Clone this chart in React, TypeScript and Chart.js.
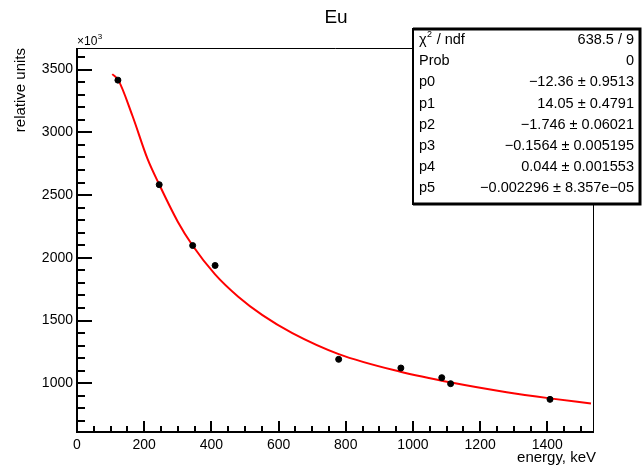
import React, { useEffect, useRef } from "react";
import { Chart, registerables } from "chart.js";

Chart.register(...registerables);

// ---------- data ----------
const chartTitle = "Eu";
const xAxisTitle = "energy, keV";
const yAxisTitle = "relative units";
const yMultiplier = "×10";
const yMultiplierExp = "3";

const energies = [121.8, 244.7, 344.3, 411.1, 778.9, 964.1, 1085.8, 1112.1, 1408.0];
const amplitudes = [3416, 2583, 2098, 1939, 1191, 1122, 1045, 997, 872];

const fitEnergies = [105, 123, 165, 210, 245, 300, 344, 411, 480, 552, 641, 779, 960, 1118, 1279, 1408, 1530];
const fitValues = [3464, 3416, 3132, 2788, 2583, 2288, 2098, 1868, 1690, 1543, 1400, 1233, 1094, 1004, 929, 880, 839];

const xTickValues = [0, 200, 400, 600, 800, 1000, 1200, 1400];
const yTickValues = [1000, 1500, 2000, 2500, 3000, 3500];
const xMin = 0;
const xMax = 1536;
const yMin = 612;
const yMax = 3672;

const statLabels = ["χ² / ndf", "Prob", "p0", "p1", "p2", "p3", "p4", "p5"];
const statValues = [
  "638.5 / 9",
  "0",
  "−12.36 ± 0.9513",
  "14.05 ± 0.4791",
  "−1.746 ± 0.06021",
  "−0.1564 ± 0.005195",
  "0.044 ± 0.001553",
  "−0.002296 ± 8.357e−05",
];

// ---------- styling ----------
const FONT = "'Liberation Sans', Arial, Helvetica, sans-serif";
const W = 642;
const H = 469;
const AREA = { left: 77, right: 593, top: 48, bottom: 432 };
const xMinorStep = 50;
const yMinorStep = 100;

const rootPlugin = {
  id: "rootDecor",
  afterDraw(chart: any) {
    const { ctx, chartArea: a, scales } = chart;
    const xs = scales.x;
    const ys = scales.y;
    ctx.save();

    // thin frame top/right
    ctx.strokeStyle = "#000";
    ctx.lineWidth = 1;
    ctx.beginPath();
    ctx.moveTo(a.left, a.top + 0.5);
    ctx.lineTo(a.right + 0.5, a.top + 0.5);
    ctx.lineTo(a.right + 0.5, a.bottom);
    ctx.stroke();

    // thick axes
    ctx.lineWidth = 2;
    ctx.beginPath();
    ctx.moveTo(a.left, a.top);
    ctx.lineTo(a.left, a.bottom);
    ctx.lineTo(a.right + 1, a.bottom);
    ctx.stroke();

    // y ticks (inside)
    for (let v = Math.ceil(yMin / yMinorStep) * yMinorStep; v <= yMax; v += yMinorStep) {
      const py = Math.round(ys.getPixelForValue(v));
      const major = yTickValues.includes(v);
      ctx.beginPath();
      ctx.moveTo(a.left, py);
      ctx.lineTo(a.left + (major ? 15 : 8), py);
      ctx.stroke();
    }
    // x ticks (inside)
    for (let v = Math.ceil(xMin / xMinorStep) * xMinorStep; v <= xMax; v += xMinorStep) {
      const px = Math.round(xs.getPixelForValue(v));
      if (px <= a.left + 1) continue;
      const major = xTickValues.includes(v);
      ctx.beginPath();
      ctx.moveTo(px, a.bottom);
      ctx.lineTo(px, a.bottom - (major ? 11 : 6));
      ctx.stroke();
    }

    ctx.fillStyle = "#000";
    // title
    ctx.font = `19px ${FONT}`;
    ctx.textAlign = "center";
    ctx.textBaseline = "middle";
    ctx.fillText(chartTitle, 336, 18);

    // x axis title
    ctx.font = `15px ${FONT}`;
    ctx.textAlign = "right";
    ctx.textBaseline = "middle";
    ctx.fillText(xAxisTitle, a.right + 3, 458);

    // y axis title
    ctx.save();
    ctx.translate(21, a.top);
    ctx.rotate(-Math.PI / 2);
    ctx.textAlign = "right";
    ctx.textBaseline = "middle";
    ctx.fillText(yAxisTitle, 0, 0);
    ctx.restore();

    // multiplier
    ctx.font = `12px ${FONT}`;
    ctx.textAlign = "left";
    ctx.textBaseline = "alphabetic";
    ctx.fillText(yMultiplier, a.left, 45);
    const mw = ctx.measureText(yMultiplier).width;
    ctx.font = `8px ${FONT}`;
    ctx.fillText(yMultiplierExp, a.left + mw + 0.5, 39);

    // stats box
    const bx = 413, by = 29, bw = 227, bh = 175;
    ctx.fillStyle = "#fff";
    ctx.fillRect(bx, by, bw, bh);
    ctx.strokeStyle = "#000";
    ctx.lineWidth = 2;
    ctx.strokeRect(bx, by, bw, bh);
    ctx.lineWidth = 3;
    ctx.beginPath();
    ctx.moveTo(bx, by);
    ctx.lineTo(bx + bw, by);
    ctx.lineTo(bx + bw, by + bh);
    ctx.lineTo(bx, by + bh);
    ctx.stroke();

    ctx.fillStyle = "#000";
    ctx.textBaseline = "middle";
    const rowH = 21.2;
    const sf = `14.5px ${FONT}`;
    for (let i = 0; i < statLabels.length; i++) {
      const ry = 40 + i * rowH;
      const lab = statLabels[i];
      ctx.textAlign = "left";
      if (lab.includes("²")) {
        const [pre, post] = lab.split("²");
        ctx.font = sf;
        ctx.fillText(pre, 419, ry);
        const w1 = ctx.measureText(pre).width;
        ctx.font = `9px ${FONT}`;
        ctx.fillText("2", 419 + w1 + 0.5, ry - 5);
        const w2 = ctx.measureText("2").width;
        ctx.font = sf;
        ctx.fillText(post, 419 + w1 + w2 + 1, ry);
      } else {
        ctx.font = sf;
        ctx.fillText(lab, 419, ry);
      }
      ctx.font = sf;
      ctx.textAlign = "right";
      ctx.fillText(statValues[i], 634, ry);
    }

    ctx.restore();
  },
};

export default function App() {
  const ref = useRef<HTMLCanvasElement | null>(null);

  useEffect(() => {
    if (!ref.current) return;
    const chart = new Chart(ref.current, {
      type: "scatter",
      data: {
        datasets: [
          {
            type: "line",
            label: "fit",
            data: fitEnergies.map((e, i) => ({ x: e, y: fitValues[i] })),
            borderColor: "#ff0000",
            borderWidth: 2,
            pointRadius: 0,
            fill: false,
            cubicInterpolationMode: "monotone",
            order: 2,
          } as any,
          {
            type: "scatter",
            label: "data",
            data: energies.map((e, i) => ({ x: e, y: amplitudes[i] })),
            backgroundColor: "#000",
            borderColor: "#000",
            pointRadius: 3,
            pointStyle: "circle",
            order: 1,
          },
        ],
      },
      options: {
        animation: false,
        responsive: false,
        devicePixelRatio: 1,
        layout: { padding: { top: AREA.top, right: W - AREA.right, left: 0, bottom: 0 } },
        plugins: {
          legend: { display: false },
          title: { display: false },
          tooltip: { enabled: false },
        },
        scales: {
          x: {
            type: "linear",
            min: xMin,
            max: xMax,
            grid: { display: false, drawTicks: false },
            border: { display: false },
            ticks: {
              autoSkip: false,
              maxRotation: 0,
              padding: 5,
              color: "#000",
              font: { family: FONT, size: 14 },
              callback: (v: any) => String(v),
            },
            afterBuildTicks: (s: any) => {
              s.ticks = xTickValues.map((v) => ({ value: v }));
            },
            afterFit: (s: any) => {
              s.height = H - AREA.bottom;
            },
          },
          y: {
            type: "linear",
            min: yMin,
            max: yMax,
            grid: { display: false, drawTicks: false },
            border: { display: false },
            ticks: {
              autoSkip: false,
              padding: 4,
              color: "#000",
              font: { family: FONT, size: 14 },
              callback: (v: any) => String(v),
            },
            afterBuildTicks: (s: any) => {
              s.ticks = yTickValues.map((v) => ({ value: v }));
            },
            afterFit: (s: any) => {
              s.width = AREA.left;
            },
          },
        },
      },
      plugins: [rootPlugin],
    });
    return () => chart.destroy();
  }, []);

  return (
    <div style={{ position: "fixed", left: 0, top: 0, width: W, height: H, background: "#fff" }}>
      <canvas ref={ref} width={W} height={H} style={{ display: "block", width: W, height: H }} />
    </div>
  );
}
